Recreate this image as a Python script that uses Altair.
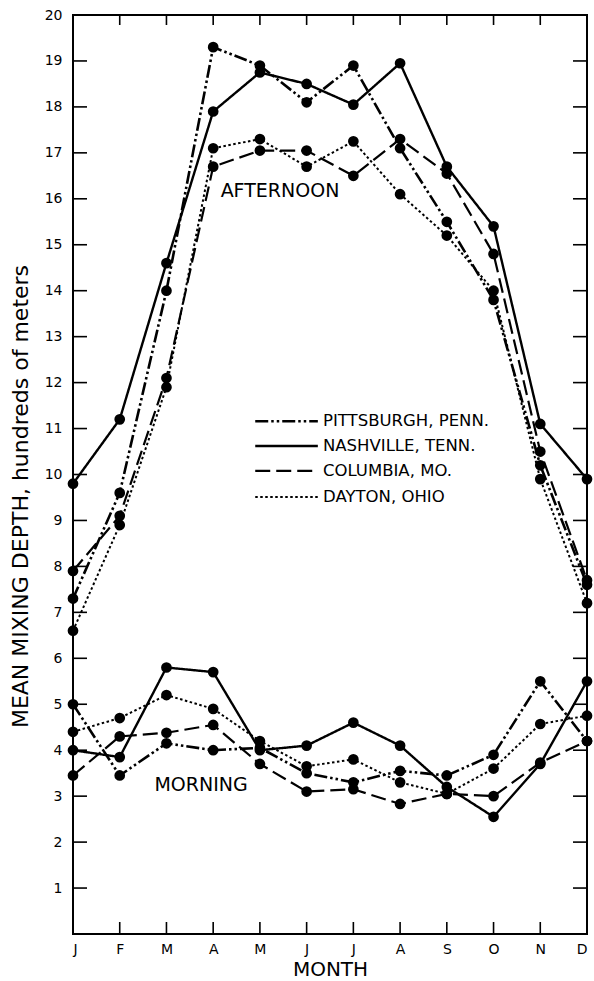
import altair as alt
import pandas as pd

months = ["J", "F", "M", "A", "M", "J", "J", "A", "S", "O", "N", "D"]
cities = ["PITTSBURGH, PENN.", "NASHVILLE, TENN.", "COLUMBIA, MO.", "DAYTON, OHIO"]

# Afternoon mean mixing depth (hundreds of meters)
pitt_pm = [7.3, 9.6, 14.0, 19.3, 18.9, 18.1, 18.9, 17.1, 15.5, 13.8, 10.2, 7.6]
nash_pm = [9.8, 11.2, 14.6, 17.9, 18.75, 18.5, 18.05, 18.95, 16.7, 15.4, 11.1, 9.9]
col_pm = [7.9, 9.1, 12.1, 16.7, 17.05, 17.05, 16.5, 17.3, 16.55, 14.8, 10.5, 7.7]
day_pm = [6.6, 8.9, 11.9, 17.1, 17.3, 16.7, 17.25, 16.1, 15.2, 14.0, 9.9, 7.2]

# Morning mean mixing depth
pitt_am = [5.0, 3.45, 4.15, 4.0, 4.05, 3.5, 3.3, 3.55, 3.45, 3.9, 5.5, 4.2]
nash_am = [4.0, 3.85, 5.8, 5.7, 4.0, 4.1, 4.6, 4.1, 3.2, 2.55, 3.7, 5.5]
col_am = [3.45, 4.3, 4.38, 4.55, 3.7, 3.1, 3.15, 2.83, 3.05, 3.0, 3.73, 4.2]
day_am = [4.4, 4.7, 5.2, 4.9, 4.2, 3.65, 3.8, 3.3, 3.05, 3.6, 4.57, 4.75]

y_ticks = list(range(1, 20))
y_labels = list(range(1, 21))
x_inner = list(range(1, 11))

# ---- layout / style constants ----
W, H = 514, 919
FONT = "DejaVu Sans"
dash_range = [[13, 3, 2.5, 3, 2.5, 3], [1, 0], [15, 6], [2.5, 2.5]]
width_range = [2.6, 2.0, 3.0, 2.8]
legend_x1, legend_x2, legend_tx = 3.9, 5.24, 5.35
legend_y = [11.16, 10.62, 10.08, 9.51]
afternoon_pos = (4.43, 16.17)
morning_pos = (2.74, 3.24)

series = {
    ("PITTSBURGH, PENN.", "afternoon"): pitt_pm,
    ("NASHVILLE, TENN.", "afternoon"): nash_pm,
    ("COLUMBIA, MO.", "afternoon"): col_pm,
    ("DAYTON, OHIO", "afternoon"): day_pm,
    ("PITTSBURGH, PENN.", "morning"): pitt_am,
    ("NASHVILLE, TENN.", "morning"): nash_am,
    ("COLUMBIA, MO.", "morning"): col_am,
    ("DAYTON, OHIO", "morning"): day_am,
}
rows = []
for (city, period), vals in series.items():
    for i, v in enumerate(vals):
        rows.append({"m": i, "v": v, "city": city, "period": period})
df = pd.DataFrame(rows)

dash_scale = alt.Scale(domain=cities, range=dash_range)
width_scale = alt.Scale(domain=cities, range=width_range)
xs = alt.Scale(domain=[0, 11], nice=False, zero=False)
ys = alt.Scale(domain=[0, 20], nice=False, zero=True)

label_expr = "[" + ",".join("'%s'" % m for m in months) + "][datum.value]"

base = alt.Chart(df)
lines = base.mark_line(color="black").encode(
    x=alt.X("m:Q", scale=xs, axis=alt.Axis(
        values=list(range(12)), labelExpr=label_expr, title="MONTH",
        labelFontSize=14, labelPadding=8, titleFontSize=20, titleFontWeight="normal",
        titleBaseline="alphabetic", titleY=41)),
    y=alt.Y("v:Q", scale=ys, axis=alt.Axis(
        values=y_labels, title="MEAN MIXING DEPTH, hundreds of meters",
        labelFontSize=14, labelPadding=11, titleFontSize=22, titleFontWeight="normal",
        titleAngle=270, titleX=-46, titleY=481, titleAlign="center",
        titleBaseline="alphabetic")),
    strokeDash=alt.StrokeDash("city:N", scale=dash_scale, legend=None),
    strokeWidth=alt.StrokeWidth("city:N", scale=width_scale, legend=None),
    detail="period:N",
)
points = base.mark_circle(color="black", opacity=1, size=115).encode(
    x=alt.X("m:Q", scale=xs), y=alt.Y("v:Q", scale=ys)
)

yt = pd.DataFrame({"v": y_ticks})
left_ticks = alt.Chart(yt).mark_rule(color="black", strokeWidth=1.6).encode(
    y=alt.Y("v:Q", scale=ys), x=alt.value(0), x2=alt.value(14))
right_ticks = alt.Chart(yt).mark_rule(color="black", strokeWidth=1.6).encode(
    y=alt.Y("v:Q", scale=ys), x=alt.value(W - 14), x2=alt.value(W))
xt = pd.DataFrame({"m": x_inner})
top_ticks = alt.Chart(xt).mark_rule(color="black", strokeWidth=1.6).encode(
    x=alt.X("m:Q", scale=xs), y=alt.value(0), y2=alt.value(10))
bottom_ticks = alt.Chart(xt).mark_rule(color="black", strokeWidth=1.6).encode(
    x=alt.X("m:Q", scale=xs), y=alt.value(H - 12), y2=alt.value(H))

leg = pd.DataFrame({"city": cities, "y": legend_y,
                    "x1": [legend_x1] * 4, "x2": [legend_x2] * 4, "tx": [legend_tx] * 4})
leg_lines = alt.Chart(leg).mark_rule(color="black").encode(
    x=alt.X("x1:Q", scale=xs), x2="x2:Q", y=alt.Y("y:Q", scale=ys),
    strokeDash=alt.StrokeDash("city:N", scale=dash_scale, legend=None),
    strokeWidth=alt.StrokeWidth("city:N", scale=width_scale, legend=None),
)
leg_text = alt.Chart(leg).mark_text(align="left", baseline="middle", font=FONT,
                                    fontSize=16.5, color="black").encode(
    x=alt.X("tx:Q", scale=xs), y=alt.Y("y:Q", scale=ys), text="city:N")

ann = pd.DataFrame({"x": [afternoon_pos[0], morning_pos[0]],
                    "y": [afternoon_pos[1], morning_pos[1]],
                    "t": ["AFTERNOON", "MORNING"]})
ann_text = alt.Chart(ann).mark_text(align="center", baseline="middle", font=FONT,
                                    fontSize=19, color="black").encode(
    x=alt.X("x:Q", scale=xs), y=alt.Y("y:Q", scale=ys), text="t:N")

chart = alt.layer(
    lines, points, left_ticks, right_ticks, top_ticks, bottom_ticks,
    leg_lines, leg_text, ann_text
).properties(
    width=W, height=H,
    padding={"left": 73, "top": 15, "right": 7, "bottom": 47},
    autosize=alt.AutoSizeParams(type="none"),
    background="white",
).configure_view(
    stroke="black", strokeWidth=2
).configure_axis(
    grid=False, domain=False, ticks=False,
    labelFont=FONT, titleFont=FONT, labelColor="black", titleColor="black",
)

chart.save("out.html", embed_options={"renderer": "svg", "actions": False})
